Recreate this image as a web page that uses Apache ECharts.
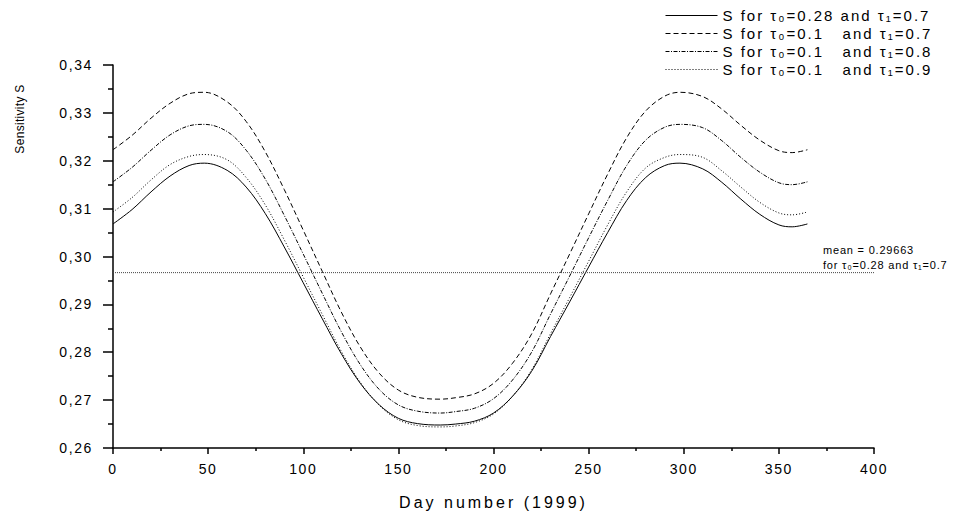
<!DOCTYPE html>
<html>
<head>
<meta charset="utf-8">
<script src="https://cdn.jsdelivr.net/npm/echarts@6/dist/echarts.min.js"></script>
<style>
  html, body { margin: 0; padding: 0; background: #fff; }
  #chart { width: 955px; height: 515px; }
  #chart svg text { white-space: pre; }
</style>
</head>
<body>
<div id="chart"></div>
<script>
// Day numbers (1999)
const days = [0, 10, 20, 30, 40, 48, 60, 70, 80, 90, 100, 110, 120, 130, 140, 150, 160, 172, 180, 190, 200, 210, 220, 230, 240, 250, 260, 270, 280, 290, 298, 310, 320, 330, 340, 350, 357, 365];
// S for tau0=0.28, tau1=0.7 (solid)
const sA = [0.3068, 0.3098, 0.3135, 0.3168, 0.3190, 0.3195, 0.3180, 0.3145, 0.3090, 0.3020, 0.2945, 0.2870, 0.2797, 0.2735, 0.2690, 0.2662, 0.2651, 0.2648, 0.2650, 0.2656, 0.2673, 0.2708, 0.2760, 0.2833, 0.2905, 0.2978, 0.3050, 0.3117, 0.3165, 0.3190, 0.3195, 0.3183, 0.3155, 0.3120, 0.3088, 0.3066, 0.3062, 0.3068];
// S for tau0=0.1, tau1=0.7 (dashed)
const sB = [0.3223, 0.3253, 0.3289, 0.3320, 0.3340, 0.3343, 0.3323, 0.3282, 0.3219, 0.3140, 0.3055, 0.2969, 0.2884, 0.2811, 0.2756, 0.2721, 0.2706, 0.2702, 0.2705, 0.2713, 0.2735, 0.2777, 0.2838, 0.2922, 0.3005, 0.3089, 0.3172, 0.3248, 0.3304, 0.3335, 0.3343, 0.3334, 0.3308, 0.3274, 0.3243, 0.3221, 0.3217, 0.3223];
// S for tau0=0.1, tau1=0.8 (dash-dot)
const sC = [0.3156, 0.3186, 0.3222, 0.3254, 0.3273, 0.3276, 0.3261, 0.3222, 0.3162, 0.3086, 0.3005, 0.2923, 0.2843, 0.2774, 0.2722, 0.2690, 0.2677, 0.2673, 0.2676, 0.2683, 0.2703, 0.2742, 0.2800, 0.2880, 0.2959, 0.3039, 0.3117, 0.3190, 0.3243, 0.3270, 0.3276, 0.3269, 0.3242, 0.3207, 0.3176, 0.3154, 0.3150, 0.3156];
// S for tau0=0.1, tau1=0.9 (dotted)
const sD = [0.3093, 0.3123, 0.3160, 0.3192, 0.3209, 0.3213, 0.3202, 0.3165, 0.3108, 0.3035, 0.2957, 0.2879, 0.2802, 0.2737, 0.2689, 0.2659, 0.2647, 0.2644, 0.2646, 0.2653, 0.2671, 0.2708, 0.2763, 0.2839, 0.2914, 0.2990, 0.3066, 0.3135, 0.3185, 0.3207, 0.3213, 0.3207, 0.3179, 0.3145, 0.3113, 0.3091, 0.3087, 0.3093];
// Mean value line
const meanValue = 0.29663;
const meanRange = [0, 400];

const names = [
  'S for \u03C4\u2080=0.28 and \u03C4\u2081=0.7',
  'S for \u03C4\u2080=0.1   and \u03C4\u2081=0.7',
  'S for \u03C4\u2080=0.1   and \u03C4\u2081=0.8',
  'S for \u03C4\u2080=0.1   and \u03C4\u2081=0.9'
];
const styles = [
  { type: 'solid', width: 1 },
  { type: [5, 3], width: 1 },
  { type: [4, 1.5, 1, 1.5], width: 1 },
  { type: [1, 2], width: 1 }
];
const seriesData = [sA, sB, sC, sD];
const FONT = '"Liberation Sans", Arial, sans-serif';

const chart = echarts.init(document.getElementById('chart'), null, { renderer: 'svg' });

const series = seriesData.map((arr, i) => ({
  name: names[i],
  type: 'line',
  data: days.map((d, j) => [d, arr[j]]),
  smooth: 0.35,
  symbol: 'none',
  lineStyle: Object.assign({ color: '#000' }, styles[i]),
  itemStyle: { color: '#000' },
  animation: false
}));
series.push({
  name: 'mean',
  type: 'line',
  data: meanRange.map(d => [d, meanValue]),
  symbol: 'none',
  lineStyle: { color: '#444', width: 1, type: [1, 1] },
  animation: false
});

// letter spacing by font size (the reference uses widely spaced type)
const spacingBySize = { '11px': '0.8px', '12px': '0.3px', '14px': '1.6px', '15px': '2px', '16px': '3px' };
function applySpacing() {
  document.querySelectorAll('#chart svg text').forEach(t => {
    const fs = getComputedStyle(t).fontSize;
    if (spacingBySize[fs] !== undefined) t.style.letterSpacing = spacingBySize[fs];
  });
}

chart.setOption({
  animation: false,
  backgroundColor: '#fff',
  grid: { left: 113, right: 81, top: 65, bottom: 63 },
  legend: {
    data: names,
    orient: 'vertical',
    left: 665,
    top: 8,
    padding: 0,
    itemWidth: 52,
    itemHeight: 8,
    itemGap: 3,
    itemStyle: { opacity: 0 },
    lineStyle: { width: 1 },
    textStyle: { fontFamily: FONT, fontSize: 15, color: '#000' }
  },
  xAxis: {
    type: 'value',
    min: 0, max: 400, interval: 50,
    axisLine: { show: true, lineStyle: { color: '#000', width: 1.5 } },
    axisTick: { show: true, length: 6, lineStyle: { color: '#000', width: 1.5 } },
    minorTick: { show: true, splitNumber: 2, length: 3, lineStyle: { color: '#000', width: 1.5 } },
    splitLine: { show: false },
    axisLabel: { fontFamily: FONT, fontSize: 14, color: '#000', margin: 14 },
    name: 'Day number (1999)',
    nameLocation: 'middle',
    nameGap: 46,
    nameTextStyle: { fontFamily: FONT, fontSize: 16, color: '#000' }
  },
  yAxis: {
    type: 'value',
    min: 0.26, max: 0.34, interval: 0.01,
    axisLine: { show: true, lineStyle: { color: '#000', width: 1.5 } },
    axisTick: { show: true, length: 10, lineStyle: { color: '#000', width: 1.5 } },
    minorTick: { show: true, splitNumber: 2, length: 5, lineStyle: { color: '#000', width: 1.5 } },
    splitLine: { show: false },
    axisLabel: {
      fontFamily: FONT, fontSize: 14, color: '#000', margin: 20,
      formatter: v => v.toFixed(2).replace('.', ',')
    }
  },
  graphic: [
    {
      type: 'text', x: 20, y: 119, rotation: Math.PI / 2,
      style: { text: 'Sensitivity S', font: '12px ' + FONT, fill: '#000', align: 'center', verticalAlign: 'middle' }
    },
    {
      type: 'text', left: 823, top: 244,
      style: { text: 'mean = 0.29663', font: '11px ' + FONT, fill: '#000' }
    },
    {
      type: 'text', left: 823, top: 259,
      style: { text: 'for \u03C4\u2080=0.28 and \u03C4\u2081=0.7', font: '11px ' + FONT, fill: '#000' }
    }
  ],
  series: series
});
applySpacing();
chart.on('finished', applySpacing);
</script>
</body>
</html>
